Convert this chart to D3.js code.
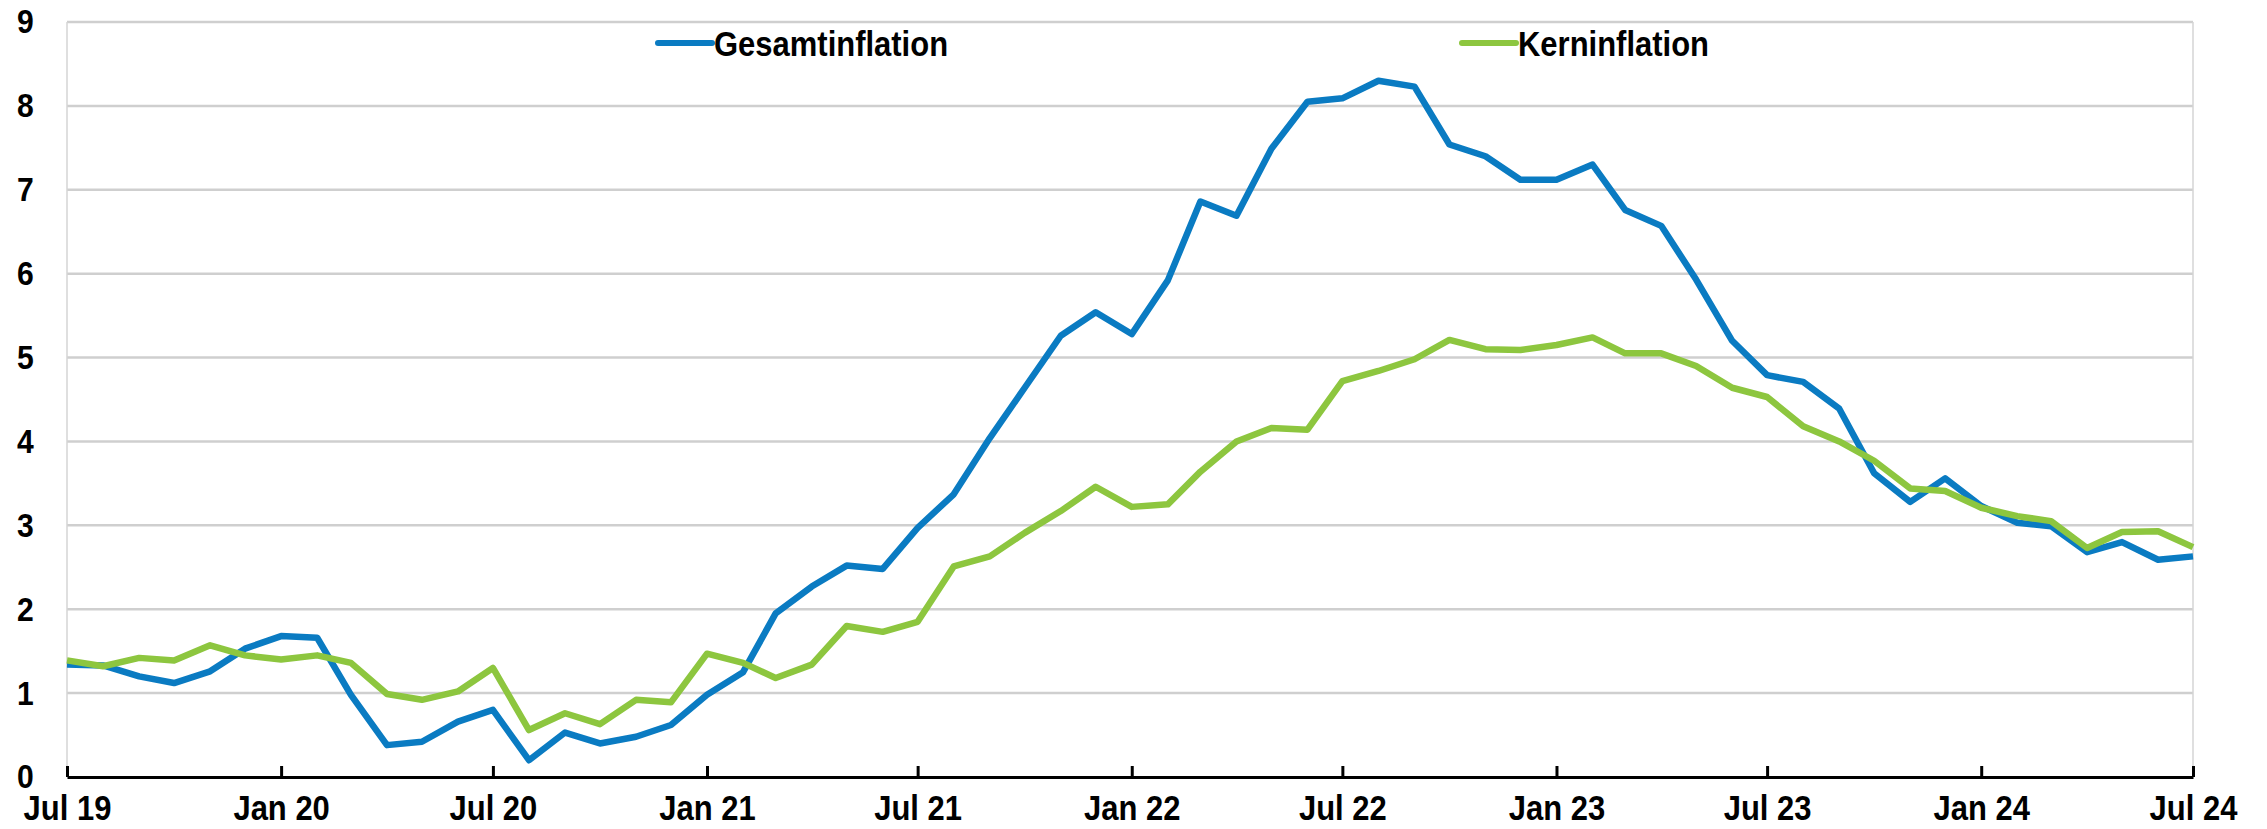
<!DOCTYPE html>
<html>
<head>
<meta charset="utf-8">
<script src="https://cdn.jsdelivr.net/npm/d3@7"></script>
<style>
  body { margin: 0; background: #fff; }
  svg text { font-family: "Liberation Sans Narrow", "Arial Narrow", "Liberation Sans", Arial, sans-serif; font-weight: bold; fill: #000; }
</style>
</head>
<body>
<svg id="chart" width="2267" height="829"></svg>
<script>
// monatliche Werte, Jul 2019 bis Jul 2024
let startMonth = new Date(2019, 6, 1);
let gesamt = [1.34, 1.33, 1.20, 1.12, 1.26, 1.53, 1.68, 1.66, 0.98, 0.38, 0.42, 0.66, 0.80,
  0.20, 0.53, 0.40, 0.48, 0.62, 0.98, 1.25, 1.95, 2.27, 2.52, 2.48, 2.97,
  3.37, 4.04, 4.64, 5.26, 5.54, 5.28, 5.92, 6.86, 6.69, 7.49, 8.05, 8.09,
  8.30, 8.23, 7.54, 7.40, 7.12, 7.12, 7.30, 6.76, 6.57, 5.93, 5.20, 4.79,
  4.71, 4.39, 3.62, 3.28, 3.56, 3.23, 3.03, 2.99, 2.68, 2.80, 2.59, 2.63];
let kern = [1.39, 1.32, 1.42, 1.39, 1.57, 1.45, 1.40, 1.45, 1.36, 0.99, 0.92, 1.02, 1.30,
  0.56, 0.76, 0.63, 0.92, 0.89, 1.47, 1.36, 1.18, 1.34, 1.80, 1.73, 1.85,
  2.51, 2.63, 2.91, 3.17, 3.46, 3.22, 3.25, 3.64, 4.00, 4.16, 4.14, 4.72,
  4.84, 4.98, 5.21, 5.10, 5.09, 5.15, 5.24, 5.05, 5.05, 4.90, 4.64, 4.53,
  4.18, 4.00, 3.77, 3.44, 3.41, 3.21, 3.11, 3.05, 2.73, 2.92, 2.93, 2.74];
let tickLabels = ["Jul 19", "Jan 20", "Jul 20", "Jan 21", "Jul 21", "Jan 22", "Jul 22",
  "Jan 23", "Jul 23", "Jan 24", "Jul 24"];
let yTicks = [0, 1, 2, 3, 4, 5, 6, 7, 8, 9];
let seriesNames = ["Gesamtinflation", "Kerninflation"];
let colors = ["#0a7bc2", "#8dc63f"];

let margin = {left: 67, right: 74, top: 22, bottom: 52};
let width = 2267 - margin.left - margin.right;
let height = 829 - margin.top - margin.bottom;

let dates = gesamt.map(function(d, i) { return d3.timeMonth.offset(startMonth, i); });

let x = d3.scaleTime()
  .domain([dates[0], dates[dates.length - 1]])
  .range([0, width]);
let y = d3.scaleLinear().domain([0, 9]).range([height, 0]);

let chart = d3.select("#chart")
  .append("g")
  .attr("transform", "translate(" + margin.left + "," + margin.top + ")");

// Gitternetz
chart.append("g")
  .selectAll("line")
  .data(yTicks.slice(1))
  .enter().append("line")
  .attr("x1", 0).attr("x2", width)
  .attr("y1", function(d) { return y(d); })
  .attr("y2", function(d) { return y(d); })
  .attr("stroke", "#cfcfcf")
  .attr("stroke-width", 2.5);

chart.append("line")
  .attr("x1", 0).attr("x2", 0).attr("y1", 0).attr("y2", height)
  .attr("stroke", "#d4d4d4").attr("stroke-width", 1.5);
chart.append("line")
  .attr("x1", width).attr("x2", width).attr("y1", 0).attr("y2", height)
  .attr("stroke", "#d4d4d4").attr("stroke-width", 1.5);

// y-Achse
let yAxis = chart.append("g")
  .call(d3.axisLeft(y).tickValues(yTicks).tickSize(0).tickPadding(42).tickFormat(d3.format("d")));
yAxis.select(".domain").remove();
yAxis.selectAll("text").attr("font-size", 34).attr("text-anchor", "start");

// x-Achse
let xTickDates = d3.timeMonth.every(6).range(dates[0], d3.timeMonth.offset(dates[dates.length - 1], 1));
let xAxis = chart.append("g")
  .attr("transform", "translate(0," + height + ")")
  .call(d3.axisBottom(x)
    .tickValues(xTickDates)
    .tickSizeInner(-11)
    .tickSizeOuter(0)
    .tickPadding(18)
    .tickFormat(function(d, i) { return tickLabels[i]; }));
xAxis.select(".domain").attr("stroke", "#000").attr("stroke-width", 3);
xAxis.selectAll(".tick line").attr("stroke", "#000").attr("stroke-width", 3);
xAxis.selectAll("text").attr("font-size", 35);

// Linien
let line = d3.line()
  .x(function(d, i) { return x(dates[i]); })
  .y(function(d) { return y(d); });

[gesamt, kern].forEach(function(s, k) {
  chart.append("path")
    .datum(s)
    .attr("fill", "none")
    .attr("stroke", colors[k])
    .attr("stroke-width", 6.5)
    .attr("stroke-linejoin", "round")
    .attr("d", line);
});

// Legende
let legendX = [658, 1462];
let legend = d3.select("#chart").append("g");
seriesNames.forEach(function(name, k) {
  legend.append("line")
    .attr("x1", legendX[k]).attr("x2", legendX[k] + 54)
    .attr("y1", 43).attr("y2", 43)
    .attr("stroke", colors[k]).attr("stroke-width", 6)
    .attr("stroke-linecap", "round");
  legend.append("text")
    .attr("x", legendX[k] + 56)
    .attr("y", 43)
    .attr("dy", "0.36em")
    .attr("font-size", 35)
    .text(name);
});

// Schmalschrift nachbilden, falls keine Narrow-Schrift vorhanden
d3.selectAll("svg text").each(function() {
  let w = this.getComputedTextLength();
  d3.select(this).attr("textLength", w * 0.885).attr("lengthAdjust", "spacingAndGlyphs");
});
// y-Beschriftung: linksbündig bei x=17
yAxis.selectAll("text").attr("x", 17 - margin.left);
</script>
</body>
</html>
